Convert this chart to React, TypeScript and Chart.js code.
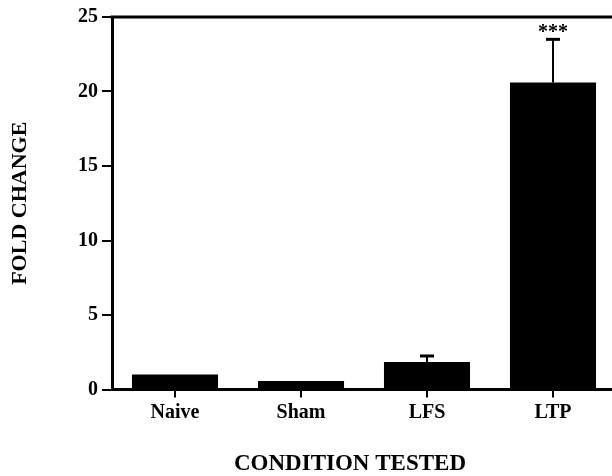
import React, { useEffect, useRef } from "react";
import { Chart, registerables } from "chart.js";

Chart.register(...registerables);

const categories = ["Naive", "Sham", "LFS", "LTP"];
const foldChange = [1.0, 0.57, 1.85, 20.6];
const errorUpper = [0, 0, 0.4, 2.9];
const significance = ["", "", "", "***"];
const yTicks = [0, 5, 10, 15, 20, 25];
const yTitle = "FOLD CHANGE";
const xTitle = "CONDITION TESTED";

const SERIF = "'Liberation Serif', 'Times New Roman', Times, serif";

const decorPlugin = {
  id: "decor",
  afterDatasetsDraw(chart: any) {
    const ctx = chart.ctx;
    const meta = chart.getDatasetMeta(0);
    const yScale = chart.scales.y;
    ctx.save();
    ctx.strokeStyle = "#000";
    ctx.fillStyle = "#000";
    meta.data.forEach((bar: any, i: number) => {
      const err = errorUpper[i];
      const x = bar.x;
      const yTop = yScale.getPixelForValue(foldChange[i]);
      const yErr = yScale.getPixelForValue(foldChange[i] + err);
      if (err > 0) {
        ctx.lineWidth = 2;
        ctx.beginPath();
        ctx.moveTo(x, yTop);
        ctx.lineTo(x, yErr);
        ctx.stroke();
        ctx.lineWidth = 3;
        ctx.beginPath();
        ctx.moveTo(x - 7, yErr);
        ctx.lineTo(x + 7, yErr);
        ctx.stroke();
      }
      if (significance[i]) {
        ctx.font = `bold 20px ${SERIF}`;
        ctx.textAlign = "center";
        ctx.textBaseline = "alphabetic";
        ctx.fillText(significance[i], x, yErr - 1);
      }
    });
    ctx.restore();
  },
  afterDraw(chart: any) {
    const ctx = chart.ctx;
    const { left, right, top, bottom } = chart.chartArea;
    ctx.save();
    ctx.strokeStyle = "#000";
    ctx.lineWidth = 3;
    ctx.beginPath();
    ctx.moveTo(left - 1.5, top);
    ctx.lineTo(right, top);
    ctx.stroke();

    ctx.fillStyle = "#000";
    ctx.font = `bold 22px ${SERIF}`;
    ctx.textAlign = "center";
    ctx.textBaseline = "middle";
    ctx.save();
    ctx.translate(20, (top + bottom) / 2);
    ctx.rotate(-Math.PI / 2);
    ctx.fillText(yTitle, 0, 0);
    ctx.restore();

    ctx.font = `bold 23px ${SERIF}`;
    ctx.fillText(xTitle, left + 238, 464);
    ctx.restore();
  },
};

export default function App() {
  const ref = useRef<HTMLCanvasElement | null>(null);

  useEffect(() => {
    if (!ref.current) return;
    const chart = new Chart(ref.current, {
      type: "bar",
      data: {
        labels: categories,
        datasets: [
          {
            data: foldChange,
            backgroundColor: "#000",
            borderWidth: 0,
            barPercentage: 0.683,
            categoryPercentage: 1,
          },
        ],
      },
      options: {
        responsive: false,
        animation: false,
        devicePixelRatio: 1,
        layout: { padding: { top: 17, right: 8, left: 0, bottom: 0 } },
        plugins: {
          legend: { display: false },
          tooltip: { enabled: false },
        },
        scales: {
          x: {
            afterFit: (s: any) => {
              s.height = 86.5;
            },
            grid: {
              offset: false,
              drawOnChartArea: false,
              color: "#000",
              lineWidth: 2,
              tickLength: 8,
            },
            border: { color: "#000", width: 3 },
            ticks: {
              color: "#000",
              padding: 3,
              font: { family: SERIF, size: 20, weight: "bold" },
            },
          },
          y: {
            min: 0,
            max: 25,
            afterFit: (s: any) => {
              s.width = 112;
            },
            afterBuildTicks: (s: any) => {
              s.ticks = yTicks.map((v) => ({ value: v }));
            },
            grid: {
              drawOnChartArea: false,
              color: "#000",
              lineWidth: 2,
              tickLength: 10,
            },
            border: { color: "#000", width: 3 },
            ticks: {
              color: "#000",
              padding: 4,
              font: { family: SERIF, size: 20, weight: "bold" },
            },
          },
        },
      },
      plugins: [decorPlugin],
    } as any);
    return () => chart.destroy();
  }, []);

  return (
    <div
      style={{
        position: "fixed",
        left: 0,
        top: 0,
        width: 612,
        height: 476,
        overflow: "hidden",
        background: "#fff",
      }}
    >
      <canvas
        ref={ref}
        width={624}
        height={476}
        style={{ width: 624, height: 476, display: "block" }}
      />
    </div>
  );
}
